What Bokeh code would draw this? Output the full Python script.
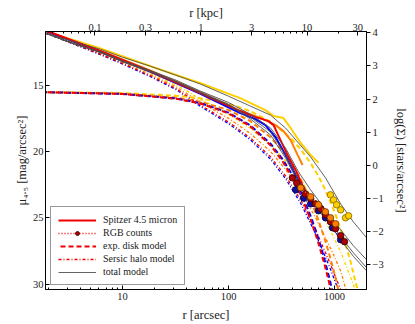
import math
from bokeh.plotting import figure
from bokeh.models import (Range1d, LinearAxis, LogAxis, FixedTicker, CustomJSTickFormatter,
                          Legend, LegendItem, LogScale, LinearScale)
from bokeh.embed import file_html
from bokeh.resources import INLINE

FONT = "Liberation Serif"
RED = "#f00000"
BLUE = "#0000ff"
ORANGE = "#ff8000"
GOLD = "#ffd000"
GRAY = "#505050"

# ---------------- data ----------------
ARCSEC_PER_KPC = 55.0
X_START, X_END = 1.88, 2000.0
MU_BOTTOM, MU_TOP = 30.41, 10.95
SIG_ZERO_MU = 21.05           # mu at log(Sigma) = 0

# Spitzer 4.5 micron profiles
sp_red_r = [1.88, 6.2, 18.4, 54.5, 129, 180, 209, 238, 266, 309, 360, 429, 510, 569]
sp_red_mu = [10.86, 12.44, 13.95, 15.6, 16.95, 17.41, 17.56, 17.71, 18.01, 19.14, 20.26, 21.39, 22.74, 23.42]
sp_blue_r = [1.88, 6.2, 18.4, 54.5, 129, 180, 223, 277, 345, 429, 532]
sp_blue_mu = [10.9, 12.48, 14.0, 15.65, 17.11, 17.56, 18.01, 18.91, 20.26, 21.77, 23.05]
sp_orange_r = [1.9, 6.2, 18.4, 54.5, 129, 180, 223, 277, 330, 385, 448, 499]
sp_orange_mu = [10.95, 12.4, 13.9, 15.55, 16.95, 17.33, 17.63, 18.01, 18.46, 19.14, 20.26, 21.02]
sp_gold_r = [1.88, 6.2, 18.4, 54.5, 129, 223, 266, 330, 385, 479, 594, 706]
sp_gold_mu = [10.94, 12.22, 13.57, 14.85, 15.98, 16.88, 17.33, 17.48, 18.23, 19.36, 20.26, 20.86]

# RGB star counts
rgb_red_r = [400, 440, 480, 530, 595, 660, 740, 820, 915, 1020, 1140, 1240]
rgb_red_mu = [21.99, 22.37, 22.74, 23.2, 23.57, 23.95, 24.32, 24.77, 25.3, 25.83, 26.35, 26.8]
rgb_blue_r = [430, 510, 595, 705, 820, 955, 1140]
rgb_blue_mu = [22.89, 23.5, 23.95, 24.47, 25.0, 25.75, 26.65]
rgb_orange_r = [480, 595, 705, 820, 915, 1020]
rgb_orange_mu = [22.74, 23.42, 24.02, 24.55, 25.0, 25.45]
rgb_gold_r = [915, 980, 1045, 1140, 1270, 1355]
rgb_gold_mu = [23.27, 23.65, 24.02, 24.4, 25.0, 24.85]

# exponential disk models
disk_red_r = [1.9, 10, 32, 55, 100, 160, 250, 320, 385, 480, 600, 700, 800, 880, 950]
disk_red_mu = [15.53, 15.66, 16.02, 16.39, 17.12, 18.09, 19.55, 20.69, 21.74, 23.28, 25.22, 26.84, 28.46, 29.76, 30.89]
disk_blue_r = [1.9, 10, 32, 55, 100, 160, 250, 320, 385, 480, 600, 700, 800, 900, 1000]
disk_blue_mu = [15.53, 15.66, 16.0, 16.37, 17.07, 18.02, 19.43, 20.54, 21.56, 23.05, 24.94, 26.51, 28.09, 29.66, 31.24]
disk_orange_r = [1.9, 10, 32, 55, 100, 160, 250, 320, 385, 480, 600, 700, 800, 900, 1000, 1150]
disk_orange_mu = [15.53, 15.64, 15.94, 16.26, 16.87, 17.70, 18.94, 19.90, 20.79, 22.10, 23.75, 25.12, 26.49, 27.87, 29.24, 31.30]
disk_gold_r = [1.9, 10, 32, 55, 100, 160, 250, 385, 480, 600, 700, 800, 1000, 1200, 1400, 1700]
disk_gold_mu = [15.52, 15.59, 15.79, 16.0, 16.40, 16.95, 17.76, 18.98, 19.84, 20.93, 21.83, 22.74, 24.55, 26.36, 28.17, 30.88]

# Sersic halo models
halo_r = [1.9, 3.2, 6.2, 10, 18.4, 32, 54.5, 100, 161, 249, 345, 479, 662, 917, 1140]
halo_red_mu = [11.09, 11.77, 12.67, 13.35, 14.3, 15.25, 16.5, 17.78, 18.98, 20.4, 21.85, 23.65, 25.9, 28.53, 30.41]
halo_blue_mu = [11.09, 11.79, 12.70, 13.40, 14.36, 15.33, 16.6, 17.9, 19.12, 20.58, 22.05, 23.9, 26.2, 28.9, 30.9]
halo_orange_r = halo_r + [1300]
halo_orange_mu = [11.09, 11.75, 12.62, 13.28, 14.2, 15.12, 16.3, 17.5, 18.65, 20.0, 21.35, 23.0, 25.0, 27.3, 29.0, 30.6]
halo_gold_r = halo_r + [1416, 1600]
halo_gold_mu = [11.09, 11.72, 12.55, 13.18, 14.08, 14.98, 16.05, 17.2, 18.25, 19.5, 20.7, 22.15, 23.9, 26.0, 27.55, 29.5, 30.6]

# total models
tot_r = [1.9, 3.2, 6.2, 10, 18.4, 32, 54.5, 100, 161, 249, 345, 457, 594, 822, 1140, 1500, 2000]
tot_red_mu = [11.09, 11.77, 12.52, 13.20, 13.95, 14.70, 15.53, 16.43, 17.41, 18.53, 20.26, 22.14, 23.5, 24.85, 26.43, 27.63, 28.76]
tot_blue_mu = [11.09, 11.79, 12.55, 13.24, 14.0, 14.77, 15.6, 16.5, 17.55, 18.75, 20.5, 22.35, 23.7, 25.05, 26.65, 27.9, 29.0]
tot_orange_mu = [11.09, 11.75, 12.48, 13.15, 13.9, 14.62, 15.45, 16.3, 17.2, 18.23, 19.74, 21.54, 22.89, 24.4, 25.9, 27.1, 28.16]
tot_gold_mu = [11.09, 11.62, 12.29, 12.89, 13.57, 14.25, 14.92, 15.83, 16.58, 17.26, 18.23, 19.36, 20.41, 21.99, 23.95, 25.3, 26.5]

# tick labels
x_ticks = [10, 100, 1000]
kpc_ticks = [0.1, 0.3, 1, 3, 10, 30]
mu_ticks = [15, 20, 25, 30]
sig_ticks = [-3, -2, -1, 0, 1, 2, 3, 4]

# ---------------- figure ----------------
W, H = 415, 324
BL, BR, BT, BB = 45, 49, 31, 34
p = figure(width=W, height=H, x_axis_type="log",
           x_range=Range1d(X_START, X_END), y_range=Range1d(MU_BOTTOM, MU_TOP),
           output_backend="svg", toolbar_location=None,
           min_border_left=BL, min_border_right=BR, min_border_top=BT, min_border_bottom=BB)
p.extra_x_ranges = {"kpc": Range1d(X_START / ARCSEC_PER_KPC, X_END / ARCSEC_PER_KPC)}
p.extra_x_scales = {"kpc": LogScale()}
sig_top = (SIG_ZERO_MU - MU_TOP) / 2.5
sig_bot = (SIG_ZERO_MU - MU_BOTTOM) / 2.5
p.extra_y_ranges = {"sig": Range1d(sig_bot, sig_top)}
p.extra_y_scales = {"sig": LinearScale()}

p.xgrid.visible = False
p.ygrid.visible = False
p.outline_line_color = "black"
p.outline_line_width = 1
p.background_fill_color = "white"
p.border_fill_color = "white"

def minor_log(majors_lo, majors_hi, skip):
    out = []
    d = majors_lo
    while d <= majors_hi:
        for m in range(1, 10):
            v = round(m * d, 6)
            if v not in skip:
                out.append(v)
        d *= 10
    return out

def style(ax, tin, tout, minor_in=0, lab_std=2, ax_std=3):
    ax.axis_label_text_font = FONT
    ax.axis_label_text_font_size = "12.5px"
    ax.axis_label_text_font_style = "normal"
    ax.axis_label_text_color = "#222222"
    ax.major_label_text_font = FONT
    ax.major_label_text_font_size = "10.5px"
    ax.major_label_text_color = "#222222"
    ax.major_tick_in = tin
    ax.major_tick_out = tout
    ax.minor_tick_in = minor_in
    ax.minor_tick_out = 0
    ax.axis_line_color = "black"
    ax.major_tick_line_color = "black"
    ax.minor_tick_line_color = "black"
    ax.major_label_standoff = lab_std
    ax.axis_label_standoff = ax_std

num_fmt = CustomJSTickFormatter(code="return tick < 0 ? '\u2212' + Math.abs(tick) : String(tick);")

bx = p.xaxis[0]
bx.ticker = FixedTicker(ticks=x_ticks, minor_ticks=minor_log(1, 1000, [1, 10, 100, 1000]))
bx.formatter = CustomJSTickFormatter(code="return String(tick);")
bx.axis_label = "r [arcsec]"
style(bx, 4, 0, 2, lab_std=3, ax_std=5)

ly = p.yaxis[0]
ly.ticker = FixedTicker(ticks=mu_ticks, minor_ticks=[])
ly.formatter = num_fmt
ly.axis_label = "\u03bc\u2084.\u2085 [mag/arcsec\u00b2]"
style(ly, 4, 0, lab_std=2, ax_std=1)

top = LogAxis(x_range_name="kpc",
              ticker=FixedTicker(ticks=kpc_ticks, minor_ticks=minor_log(0.01, 10, [0.01, 0.1, 0.3, 1, 3, 10, 30])),
              formatter=CustomJSTickFormatter(code="return String(tick);"),
              axis_label="r [kpc]")
style(top, 4, 0, 2, lab_std=1, ax_std=1)
p.add_layout(top, "above")

ry = LinearAxis(y_range_name="sig", ticker=FixedTicker(ticks=sig_ticks, minor_ticks=[]),
                formatter=num_fmt, axis_label="log(\u03a3) [stars/arcsec\u00b2]")
style(ry, 0, 4, lab_std=2, ax_std=7)
p.add_layout(ry, "right")

# ---------------- glyphs ----------------
# Sersic halos
halo = {}
for name, rr, mm, c in [("gold", halo_gold_r, halo_gold_mu, GOLD),
                        ("orange", halo_orange_r, halo_orange_mu, ORANGE),
                        ("blue", halo_r, halo_blue_mu, BLUE),
                        ("red", halo_r, halo_red_mu, RED)]:
    halo[name] = p.line(rr, mm, line_color=c, line_width=1.3, line_dash="3 2 1 2")

# exp disks
disk = {}
for i, (name, rr, mm, c) in enumerate([("gold", disk_gold_r, disk_gold_mu, GOLD),
                                       ("orange", disk_orange_r, disk_orange_mu, ORANGE),
                                       ("blue", disk_blue_r, disk_blue_mu, BLUE),
                                       ("red", disk_red_r, disk_red_mu, RED)]):
    disk[name] = p.line(rr, mm, line_color=c, line_width=2, line_dash="5 3", line_dash_offset=2 * i)

# Spitzer profiles
sp = {}
for name, rr, mm, c in [("gold", sp_gold_r, sp_gold_mu, GOLD),
                        ("orange", sp_orange_r, sp_orange_mu, ORANGE),
                        ("blue", sp_blue_r, sp_blue_mu, BLUE),
                        ("red", sp_red_r, sp_red_mu, RED)]:
    sp[name] = p.line(rr, mm, line_color=c, line_width=2)

# total models
tot = {}
for name, mm in [("gold", tot_gold_mu), ("orange", tot_orange_mu),
                 ("blue", tot_blue_mu), ("red", tot_red_mu)]:
    tot[name] = p.line(tot_r, mm, line_color=GRAY, line_width=0.9)

# RGB counts
rgb_line = {}
rgb_pts = {}
for name, rr, mm, c, fc, ec in [("blue", rgb_blue_r, rgb_blue_mu, BLUE, "#1010a0", "#000040"),
                                ("red", rgb_red_r, rgb_red_mu, RED, "#b00000", "#300000"),
                                ("orange", rgb_orange_r, rgb_orange_mu, ORANGE, "#ff8000", "#703000"),
                                ("gold", rgb_gold_r, rgb_gold_mu, GOLD, "#ffd000", "#806000")]:
    rgb_line[name] = p.line(rr, mm, line_color=c, line_width=1.5, line_dash="1 2")
    rgb_pts[name] = p.scatter(rr, mm, marker="circle", size=6.5, fill_color=fc,
                              line_color=ec, line_width=0.8)

legend = Legend(items=[
    LegendItem(label="Spitzer 4.5 micron", renderers=[sp["red"]]),
    LegendItem(label="RGB counts", renderers=[rgb_line["red"], rgb_pts["red"]]),
    LegendItem(label="exp. disk model", renderers=[disk["red"]]),
    LegendItem(label="Sersic halo model", renderers=[halo["red"]]),
    LegendItem(label="total model", renderers=[tot["red"]]),
], location=(5, 4))
legend.label_text_font = FONT
legend.label_text_font_size = "10px"
legend.label_text_color = "#222222"
legend.glyph_width = 38
legend.glyph_height = 10
legend.label_height = 10
legend.spacing = 2
legend.padding = 7
legend.margin = 0
legend.label_standoff = 7
legend.border_line_color = "#333333"
legend.border_line_width = 1
legend.background_fill_alpha = 1
p.add_layout(legend)

open("out.html", "w").write(file_html(p, INLINE))
